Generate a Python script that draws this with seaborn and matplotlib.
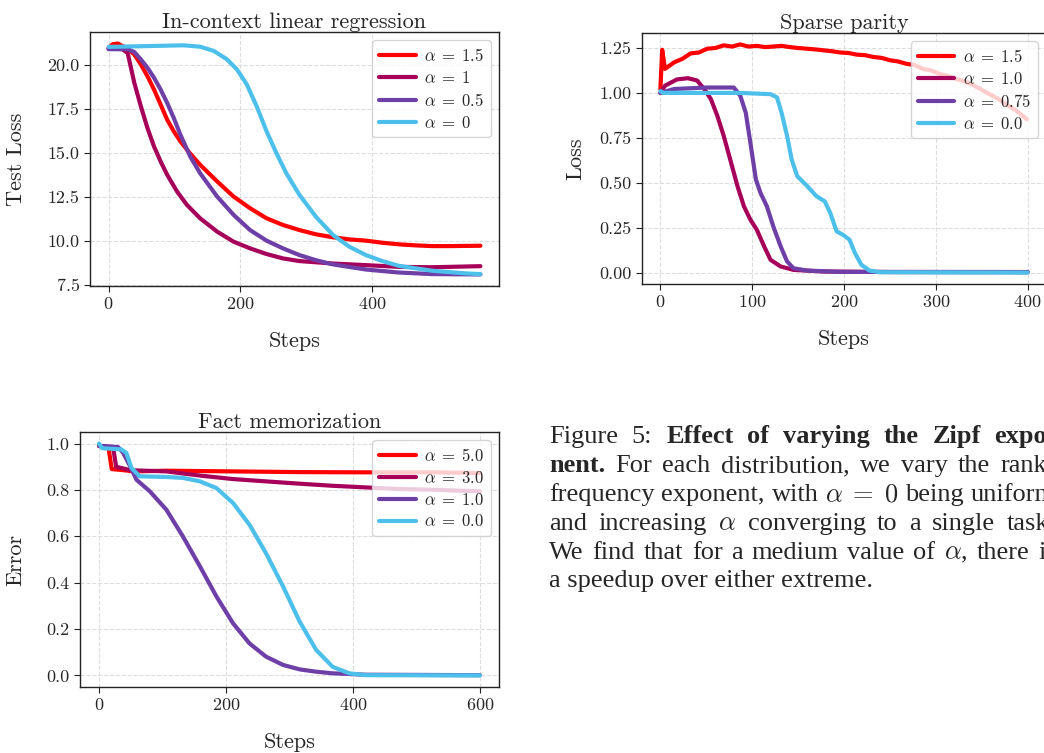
import matplotlib
matplotlib.use("Agg")
import matplotlib.pyplot as plt
import seaborn as sns

# ---------------- data ----------------
# In-context linear regression
lr_labels = [r"$\alpha \;=\; 1.5$", r"$\alpha \;=\; 1$", r"$\alpha \;=\; 0.5$", r"$\alpha \;=\; 0$"]
lr_red_x = [0, 6, 14, 21, 29, 39, 49, 59, 69, 79, 89, 99, 109, 124, 139, 165, 190, 215, 240, 265, 290, 315,
            341, 366, 391, 416, 441, 467, 492, 518, 565]
lr_red_y = [20.95, 21.18, 21.22, 21.08, 20.93, 20.6, 20.04, 19.37, 18.61, 17.76, 16.9, 16.24, 15.67, 14.97, 14.34,
            13.39, 12.53, 11.87, 11.3, 10.92, 10.63, 10.39, 10.22, 10.1, 10.03, 9.91, 9.82, 9.76, 9.72, 9.72, 9.74]
lr_crim_x = [0, 21, 29, 39, 49, 59, 69, 79, 89, 104, 119, 139, 165, 190, 215, 240, 265, 290, 341, 391, 441, 492, 565]
lr_crim_y = [20.95, 20.9, 20.68, 19.0, 17.66, 16.43, 15.38, 14.53, 13.77, 12.82, 12.06, 11.3, 10.54, 9.97, 9.59,
             9.27, 9.02, 8.87, 8.73, 8.64, 8.54, 8.52, 8.58]
lr_purp_x = [0, 29, 39, 49, 59, 69, 79, 89, 99, 109, 124, 139, 165, 190, 215, 240, 265, 290, 315, 341, 391, 441,
             492, 565]
lr_purp_y = [20.9, 20.9, 20.74, 20.32, 19.85, 19.28, 18.61, 17.85, 17.0, 16.05, 14.81, 13.86, 12.53, 11.49, 10.63,
             10.03, 9.59, 9.21, 8.92, 8.68, 8.39, 8.22, 8.13, 8.11]
lr_cyan_x = [0, 64, 114, 139, 160, 180, 195, 210, 225, 240, 255, 270, 290, 315, 341, 366, 391, 416, 441, 492, 542,
             565]
lr_cyan_y = [21.03, 21.08, 21.12, 21.04, 20.8, 20.32, 19.75, 18.9, 17.66, 16.24, 15.0, 13.86, 12.63, 11.39, 10.35,
             9.68, 9.21, 8.87, 8.6, 8.32, 8.17, 8.13]

# Sparse parity
sp_labels = [r"$\alpha \;=\; 1.5$", r"$\alpha \;=\; 1.0$", r"$\alpha \;=\; 0.75$", r"$\alpha \;=\; 0.0$"]
sp_red_x = [0, 2, 5, 15, 24, 33, 42, 51, 60, 69, 78, 87, 96, 105, 114, 123, 132, 141, 150, 160, 169, 178, 187,
            196, 205, 214, 223, 232, 241, 250, 259, 268, 277, 286, 295, 304, 313, 322, 331, 340, 349, 358, 367,
            376, 388, 399]
sp_red_y = [1.02, 1.24, 1.134, 1.17, 1.19, 1.22, 1.225, 1.246, 1.25, 1.265, 1.258, 1.27, 1.258, 1.262, 1.255,
            1.258, 1.262, 1.255, 1.25, 1.246, 1.242, 1.237, 1.232, 1.225, 1.222, 1.213, 1.21, 1.2, 1.195, 1.182,
            1.175, 1.162, 1.155, 1.134, 1.125, 1.106, 1.095, 1.078, 1.065, 1.045, 1.02, 0.994, 0.97, 0.938,
            0.9, 0.854]
sp_crim_x = [0, 5, 18, 30, 40, 48, 55, 62, 69, 77, 84, 91, 98, 105, 113, 120, 131, 145, 178, 250, 400]
sp_crim_y = [1.0, 1.04, 1.075, 1.082, 1.069, 1.02, 0.966, 0.873, 0.761, 0.612, 0.481, 0.369, 0.295, 0.239, 0.146,
             0.071, 0.034, 0.015, 0.006, 0.003, 0.003]
sp_purp_x = [0, 15, 51, 80, 87, 93, 98, 104, 109, 116, 123, 131, 138, 145, 160, 196, 400]
sp_purp_y = [1.0, 1.022, 1.03, 1.03, 0.985, 0.89, 0.724, 0.519, 0.444, 0.369, 0.257, 0.146, 0.062, 0.024, 0.011,
             0.004, 0.003]
sp_cyan_x = [0, 3, 87, 120, 127, 132, 138, 143, 149, 160, 170, 179, 185, 192, 199, 206, 212, 219, 228, 239, 400]
sp_cyan_y = [1.01, 1.0, 1.0, 0.993, 0.975, 0.89, 0.761, 0.63, 0.537, 0.481, 0.425, 0.397, 0.332, 0.229, 0.21,
             0.183, 0.108, 0.043, 0.011, 0.002, 0.0]

# Fact memorization
fm_labels = [r"$\alpha \;=\; 5.0$", r"$\alpha \;=\; 3.0$", r"$\alpha \;=\; 1.0$", r"$\alpha \;=\; 0.0$"]
fm_red_x = [0, 15, 20, 40, 54, 106, 211, 316, 420, 525, 600]
fm_red_y = [0.99, 0.98, 0.89, 0.885, 0.88, 0.883, 0.88, 0.877, 0.876, 0.876, 0.873]
fm_crim_x = [0, 22, 27, 50, 106, 159, 211, 263, 316, 368, 420, 473, 525, 600]
fm_crim_y = [0.99, 0.985, 0.90, 0.885, 0.88, 0.862, 0.847, 0.837, 0.827, 0.818, 0.811, 0.804, 0.801, 0.794]
fm_purp_x = [0, 30, 38, 49, 59, 80, 106, 132, 159, 185, 211, 237, 263, 290, 316, 342, 368, 420, 600]
fm_purp_y = [0.99, 0.985, 0.96, 0.902, 0.844, 0.794, 0.715, 0.6, 0.47, 0.34, 0.225, 0.138, 0.081, 0.045, 0.026,
             0.016, 0.009, 0.003, 0.001]
fm_cyan_x = [0, 5, 35, 43, 51, 64, 106, 132, 159, 185, 211, 237, 263, 290, 316, 342, 368, 394, 420, 600]
fm_cyan_y = [1.0, 0.98, 0.975, 0.96, 0.895, 0.859, 0.856, 0.852, 0.837, 0.808, 0.744, 0.65, 0.527, 0.383, 0.232,
             0.11, 0.037, 0.009, 0.001, 0.0]

colors = ["#ff0000", "#a6005a", "#6f3fa8", "#4cc0ea"]

# caption lines: (text, bold) words per line
caption = [
    [("Figure", False), ("5:", False), ("Effect", True), ("of", True), ("varying", True), ("the", True),
     ("Zipf", True), ("expo-", True)],
    [("nent.", True), ("For", False), ("each", False), ("distribution,", False), ("we", False), ("vary", False),
     ("the", False), ("rank-", False)],
    [("frequency", False), ("exponent,", False), ("with", False), (r"$\alpha \;=\; 0$", False), ("being", False),
     ("uniform", False)],
    [("and", False), ("increasing", False), (r"$\alpha$", False), ("converging", False), ("to", False),
     ("a", False), ("single", False), ("task.", False)],
    [("We", False), ("find", False), ("that", False), ("for", False), ("a", False), ("medium", False),
     ("value", False), ("of", False), (r"$\alpha$,", False), ("there", False), ("is", False)],
    [("a speedup over either extreme.", False)],
]

sns.set_style("ticks")
plt.rcParams.update({
    "font.family": "serif",
    "font.serif": ["cmr10"],
    "mathtext.fontset": "cm",
    "axes.formatter.use_mathtext": True,
    "axes.unicode_minus": False,
})

W, H = 1044, 753
fig = plt.figure(figsize=(W / 100, H / 100), dpi=100)


def add_ax(left, right, top, bottom):
    return fig.add_axes([left / W, 1 - bottom / H, (right - left) / W, (bottom - top) / H])


def draw(ax, series, labels, title, ylabel):
    for (x, y), lbl, c in zip(series, labels, colors):
        sns.lineplot(x=x, y=y, ax=ax, color=c, linewidth=3, label=lbl)
    ax.set_title(title, fontsize=16, pad=3)
    ax.set_xlabel("Steps", fontsize=16, labelpad=14)
    ax.set_ylabel(ylabel, fontsize=16, labelpad=15)
    ax.tick_params(labelsize=13, length=4, color="#222222")
    ax.grid(True, linestyle="--", color="#dddddd", linewidth=0.8)
    for s in ax.spines.values():
        s.set_color("#222222")
        s.set_linewidth(1.0)
    ax.legend(loc="upper right", fontsize=12, handlelength=2.2, handletextpad=0.5, borderpad=0.4,
              labelspacing=0.35)


ax1 = add_ax(90, 499, 32, 286)
draw(ax1, [(lr_red_x, lr_red_y), (lr_crim_x, lr_crim_y), (lr_purp_x, lr_purp_y), (lr_cyan_x, lr_cyan_y)],
     lr_labels, "In-context linear regression", "Test Loss")
ax1.set_yticks([7.5, 10.0, 12.5, 15.0, 17.5, 20.0])
ax1.set_yticklabels(["7.5", "10.0", "12.5", "15.0", "17.5", "20.0"])
ax1.set_xticks([0, 200, 400])

ax2 = add_ax(642, 1046, 33, 284)
draw(ax2, [(sp_red_x, sp_red_y), (sp_crim_x, sp_crim_y), (sp_purp_x, sp_purp_y), (sp_cyan_x, sp_cyan_y)],
     sp_labels, "Sparse parity", "Loss")
ax2.yaxis.labelpad = 10
ax2.set_yticks([0.0, 0.25, 0.5, 0.75, 1.0, 1.25])
ax2.set_yticklabels(["0.00", "0.25", "0.50", "0.75", "1.00", "1.25"])
ax2.set_xticks([0, 100, 200, 300, 400])

ax3 = add_ax(80, 499, 432, 687)
draw(ax3, [(fm_red_x, fm_red_y), (fm_crim_x, fm_crim_y), (fm_purp_x, fm_purp_y), (fm_cyan_x, fm_cyan_y)],
     fm_labels, "Fact memorization", "Error")
ax3.set_yticks([0.0, 0.2, 0.4, 0.6, 0.8, 1.0])
ax3.set_yticklabels(["0.0", "0.2", "0.4", "0.6", "0.8", "1.0"])
ax3.set_xticks([0, 200, 400, 600])

# caption: justified lines, running past the right edge like the page crop
cap = dict(family="Liberation Serif", fontsize=19, math_fontfamily="cm", va="baseline")
left_px, right_px = 549, 1056
base = [443, 472, 501, 530, 559, 587]
renderer = fig.canvas.get_renderer()

for i, (words, b) in enumerate(zip(caption, base)):
    y = 1 - b / H
    items = []
    for w, bold in words:
        t = fig.text(0, y, w, fontweight="bold" if bold else "normal", **cap)
        items.append(t)
    widths = [t.get_window_extent(renderer).width for t in items]
    if i < len(caption) - 1 and len(items) > 1:
        gap = (right_px - left_px - sum(widths)) / (len(items) - 1)
    else:
        gap = 0
    x = left_px
    for t, wd in zip(items, widths):
        t.set_x(x / W)
        x += wd + gap

fig.savefig("out.png", dpi=100)
